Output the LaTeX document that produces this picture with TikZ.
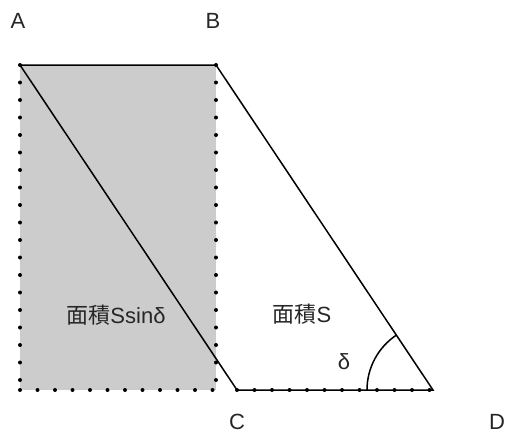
\documentclass[tikz,border=0pt]{standalone}
\usepackage{fontspec}
\usetikzlibrary{calc}
\setmainfont{Liberation Sans}
\newfontfamily\cjk{Noto Sans CJK SC}
\definecolor{grayfill}{HTML}{CCCCCC}
\begin{document}
\begin{tikzpicture}[x=1pt,y=-1pt,
  edge/.style={line width=1.5pt,black},
  dotline/.style={line width=4pt,line cap=round,dash pattern=on 0pt off 17.5pt,black},
  lbl/.style={font=\fontsize{22}{26}\selectfont,inner sep=0pt,text=black!85}]
\useasboundingbox (0,0) rectangle (509,434);
% points
\coordinate (pA) at (20,65);
\coordinate (pB) at (216,65);
\coordinate (pC) at (237,390);
\coordinate (pD) at (433,390);
\coordinate (rBL) at (20,390);
\coordinate (rBR) at (216,390);
\coordinate (arcS) at (367,390);
% gray rectangle
\fill[grayfill] (pA) rectangle (rBR);
% dotted rectangle sides
\draw[dotline] (pA) -- (rBL);
\draw[dotline] (rBL) -- (rBR);
\draw[dotline] (pB) -- (rBR);
% parallelogram
\draw[edge] (pA) -- (pB) -- (pD) -- (pC) -- cycle;
\draw[dotline] (pC) -- (pD);
% angle arc
\draw[edge] (arcS) arc[start angle=180,end angle=236.3,radius=66];
% labels
\node[lbl] (lA) at (18,21) {A};
\node[lbl] (lB) at (213,21) {B};
\node[lbl,text depth=0pt] (lC) at (237,422) {C};
\node[lbl,text depth=0pt] (lD) at (497,422) {D};
\node[lbl] (t1) at (116,315) {{\cjk 面積}Ssinδ};
\node[lbl] (t2) at (302,314) {{\cjk 面積}S};
\node[lbl] (t3) at (344,362) {δ};
\end{tikzpicture}
\end{document}
